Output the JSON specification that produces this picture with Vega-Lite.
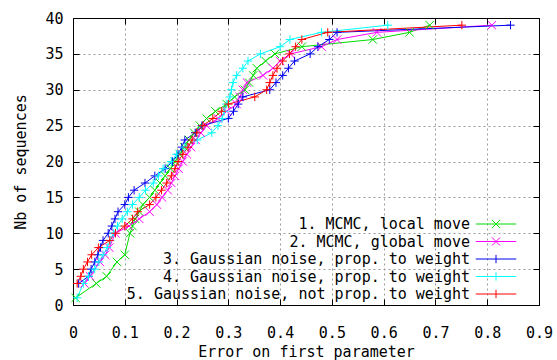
{
  "$schema": "https://vega.github.io/schema/vega-lite/v6.json",
  "width": 466,
  "height": 287,
  "autosize": {"type": "none"},
  "padding": {"left": 73, "top": 18, "right": 18, "bottom": 55},
  "background": "white",
  "config": {
    "font": "DejaVu Sans Mono",
    "view": {"stroke": "black", "strokeWidth": 1},
    "axis": {
      "labelFont": "DejaVu Sans Mono",
      "labelFontSize": 15,
      "labelColor": "black",
      "titleFont": "DejaVu Sans Mono",
      "titleFontSize": 15,
      "titleFontWeight": "normal",
      "titleColor": "black",
      "domain": true,
      "domainColor": "black",
      "domainWidth": 1,
      "ticks": false,
      "gridColor": "#9a9a9a",
      "gridDash": [2, 3],
      "gridOpacity": 1,
      "gridWidth": 1
    }
  },
  "data": {
    "values": [
      {"series": "1. MCMC, local move", "n": 1, "err": 0.005},
      {"series": "1. MCMC, local move", "n": 3, "err": 0.045},
      {"series": "1. MCMC, local move", "n": 4, "err": 0.065},
      {"series": "1. MCMC, local move", "n": 6, "err": 0.085},
      {"series": "1. MCMC, local move", "n": 7, "err": 0.1},
      {"series": "1. MCMC, local move", "n": 10, "err": 0.11},
      {"series": "1. MCMC, local move", "n": 11, "err": 0.115},
      {"series": "1. MCMC, local move", "n": 12, "err": 0.12},
      {"series": "1. MCMC, local move", "n": 13, "err": 0.128},
      {"series": "1. MCMC, local move", "n": 14, "err": 0.135},
      {"series": "1. MCMC, local move", "n": 15, "err": 0.148},
      {"series": "1. MCMC, local move", "n": 16, "err": 0.158},
      {"series": "1. MCMC, local move", "n": 17, "err": 0.168},
      {"series": "1. MCMC, local move", "n": 18, "err": 0.178},
      {"series": "1. MCMC, local move", "n": 19, "err": 0.188},
      {"series": "1. MCMC, local move", "n": 20, "err": 0.197},
      {"series": "1. MCMC, local move", "n": 21, "err": 0.206},
      {"series": "1. MCMC, local move", "n": 22, "err": 0.215},
      {"series": "1. MCMC, local move", "n": 23, "err": 0.224},
      {"series": "1. MCMC, local move", "n": 24, "err": 0.234},
      {"series": "1. MCMC, local move", "n": 25, "err": 0.245},
      {"series": "1. MCMC, local move", "n": 26, "err": 0.258},
      {"series": "1. MCMC, local move", "n": 27, "err": 0.275},
      {"series": "1. MCMC, local move", "n": 28, "err": 0.297},
      {"series": "1. MCMC, local move", "n": 29, "err": 0.312},
      {"series": "1. MCMC, local move", "n": 30, "err": 0.332},
      {"series": "1. MCMC, local move", "n": 31, "err": 0.34},
      {"series": "1. MCMC, local move", "n": 32, "err": 0.348},
      {"series": "1. MCMC, local move", "n": 33, "err": 0.355},
      {"series": "1. MCMC, local move", "n": 34, "err": 0.372},
      {"series": "1. MCMC, local move", "n": 35, "err": 0.39},
      {"series": "1. MCMC, local move", "n": 36, "err": 0.442},
      {"series": "1. MCMC, local move", "n": 37, "err": 0.579},
      {"series": "1. MCMC, local move", "n": 38, "err": 0.65},
      {"series": "1. MCMC, local move", "n": 39, "err": 0.689},

      {"series": "2. MCMC, global move", "n": 3, "err": 0.022},
      {"series": "2. MCMC, global move", "n": 4, "err": 0.033},
      {"series": "2. MCMC, global move", "n": 6, "err": 0.052},
      {"series": "2. MCMC, global move", "n": 7, "err": 0.062},
      {"series": "2. MCMC, global move", "n": 8, "err": 0.07},
      {"series": "2. MCMC, global move", "n": 10, "err": 0.082},
      {"series": "2. MCMC, global move", "n": 11, "err": 0.108},
      {"series": "2. MCMC, global move", "n": 12, "err": 0.128},
      {"series": "2. MCMC, global move", "n": 13, "err": 0.148},
      {"series": "2. MCMC, global move", "n": 14, "err": 0.162},
      {"series": "2. MCMC, global move", "n": 15, "err": 0.172},
      {"series": "2. MCMC, global move", "n": 16, "err": 0.183},
      {"series": "2. MCMC, global move", "n": 17, "err": 0.19},
      {"series": "2. MCMC, global move", "n": 18, "err": 0.197},
      {"series": "2. MCMC, global move", "n": 19, "err": 0.204},
      {"series": "2. MCMC, global move", "n": 20, "err": 0.212},
      {"series": "2. MCMC, global move", "n": 21, "err": 0.22},
      {"series": "2. MCMC, global move", "n": 22, "err": 0.228},
      {"series": "2. MCMC, global move", "n": 23, "err": 0.237},
      {"series": "2. MCMC, global move", "n": 24, "err": 0.247},
      {"series": "2. MCMC, global move", "n": 25, "err": 0.258},
      {"series": "2. MCMC, global move", "n": 26, "err": 0.28},
      {"series": "2. MCMC, global move", "n": 27, "err": 0.297},
      {"series": "2. MCMC, global move", "n": 28, "err": 0.316},
      {"series": "2. MCMC, global move", "n": 29, "err": 0.322},
      {"series": "2. MCMC, global move", "n": 30, "err": 0.328},
      {"series": "2. MCMC, global move", "n": 31, "err": 0.336},
      {"series": "2. MCMC, global move", "n": 32, "err": 0.367},
      {"series": "2. MCMC, global move", "n": 33, "err": 0.386},
      {"series": "2. MCMC, global move", "n": 34, "err": 0.4},
      {"series": "2. MCMC, global move", "n": 35, "err": 0.42},
      {"series": "2. MCMC, global move", "n": 36, "err": 0.48},
      {"series": "2. MCMC, global move", "n": 37, "err": 0.51},
      {"series": "2. MCMC, global move", "n": 38, "err": 0.587},
      {"series": "2. MCMC, global move", "n": 39, "err": 0.809},

      {"series": "3. Gaussian noise, prop. to weight", "n": 3, "err": 0.011},
      {"series": "3. Gaussian noise, prop. to weight", "n": 4, "err": 0.03},
      {"series": "3. Gaussian noise, prop. to weight", "n": 5, "err": 0.035},
      {"series": "3. Gaussian noise, prop. to weight", "n": 6, "err": 0.042},
      {"series": "3. Gaussian noise, prop. to weight", "n": 7, "err": 0.048},
      {"series": "3. Gaussian noise, prop. to weight", "n": 8, "err": 0.053},
      {"series": "3. Gaussian noise, prop. to weight", "n": 9, "err": 0.058},
      {"series": "3. Gaussian noise, prop. to weight", "n": 10, "err": 0.068},
      {"series": "3. Gaussian noise, prop. to weight", "n": 11, "err": 0.075},
      {"series": "3. Gaussian noise, prop. to weight", "n": 12, "err": 0.081},
      {"series": "3. Gaussian noise, prop. to weight", "n": 13, "err": 0.087},
      {"series": "3. Gaussian noise, prop. to weight", "n": 14, "err": 0.1},
      {"series": "3. Gaussian noise, prop. to weight", "n": 15, "err": 0.107},
      {"series": "3. Gaussian noise, prop. to weight", "n": 16, "err": 0.118},
      {"series": "3. Gaussian noise, prop. to weight", "n": 17, "err": 0.139},
      {"series": "3. Gaussian noise, prop. to weight", "n": 18, "err": 0.158},
      {"series": "3. Gaussian noise, prop. to weight", "n": 19, "err": 0.178},
      {"series": "3. Gaussian noise, prop. to weight", "n": 20, "err": 0.192},
      {"series": "3. Gaussian noise, prop. to weight", "n": 21, "err": 0.203},
      {"series": "3. Gaussian noise, prop. to weight", "n": 22, "err": 0.21},
      {"series": "3. Gaussian noise, prop. to weight", "n": 23, "err": 0.216},
      {"series": "3. Gaussian noise, prop. to weight", "n": 24, "err": 0.236},
      {"series": "3. Gaussian noise, prop. to weight", "n": 25, "err": 0.249},
      {"series": "3. Gaussian noise, prop. to weight", "n": 26, "err": 0.3},
      {"series": "3. Gaussian noise, prop. to weight", "n": 27, "err": 0.31},
      {"series": "3. Gaussian noise, prop. to weight", "n": 28, "err": 0.319},
      {"series": "3. Gaussian noise, prop. to weight", "n": 29, "err": 0.328},
      {"series": "3. Gaussian noise, prop. to weight", "n": 30, "err": 0.38},
      {"series": "3. Gaussian noise, prop. to weight", "n": 31, "err": 0.392},
      {"series": "3. Gaussian noise, prop. to weight", "n": 32, "err": 0.405},
      {"series": "3. Gaussian noise, prop. to weight", "n": 33, "err": 0.416},
      {"series": "3. Gaussian noise, prop. to weight", "n": 34, "err": 0.428},
      {"series": "3. Gaussian noise, prop. to weight", "n": 35, "err": 0.458},
      {"series": "3. Gaussian noise, prop. to weight", "n": 36, "err": 0.473},
      {"series": "3. Gaussian noise, prop. to weight", "n": 37, "err": 0.495},
      {"series": "3. Gaussian noise, prop. to weight", "n": 38, "err": 0.51},
      {"series": "3. Gaussian noise, prop. to weight", "n": 39, "err": 0.845},

      {"series": "4. Gaussian noise, prop. to weight", "n": 1, "err": 0.008},
      {"series": "4. Gaussian noise, prop. to weight", "n": 3, "err": 0.02},
      {"series": "4. Gaussian noise, prop. to weight", "n": 4, "err": 0.03},
      {"series": "4. Gaussian noise, prop. to weight", "n": 5, "err": 0.042},
      {"series": "4. Gaussian noise, prop. to weight", "n": 6, "err": 0.05},
      {"series": "4. Gaussian noise, prop. to weight", "n": 7, "err": 0.058},
      {"series": "4. Gaussian noise, prop. to weight", "n": 8, "err": 0.066},
      {"series": "4. Gaussian noise, prop. to weight", "n": 9, "err": 0.072},
      {"series": "4. Gaussian noise, prop. to weight", "n": 10, "err": 0.078},
      {"series": "4. Gaussian noise, prop. to weight", "n": 11, "err": 0.086},
      {"series": "4. Gaussian noise, prop. to weight", "n": 12, "err": 0.095},
      {"series": "4. Gaussian noise, prop. to weight", "n": 13, "err": 0.105},
      {"series": "4. Gaussian noise, prop. to weight", "n": 14, "err": 0.115},
      {"series": "4. Gaussian noise, prop. to weight", "n": 15, "err": 0.128},
      {"series": "4. Gaussian noise, prop. to weight", "n": 16, "err": 0.14},
      {"series": "4. Gaussian noise, prop. to weight", "n": 17, "err": 0.155},
      {"series": "4. Gaussian noise, prop. to weight", "n": 18, "err": 0.165},
      {"series": "4. Gaussian noise, prop. to weight", "n": 19, "err": 0.174},
      {"series": "4. Gaussian noise, prop. to weight", "n": 20, "err": 0.19},
      {"series": "4. Gaussian noise, prop. to weight", "n": 21, "err": 0.2},
      {"series": "4. Gaussian noise, prop. to weight", "n": 22, "err": 0.216},
      {"series": "4. Gaussian noise, prop. to weight", "n": 23, "err": 0.24},
      {"series": "4. Gaussian noise, prop. to weight", "n": 24, "err": 0.268},
      {"series": "4. Gaussian noise, prop. to weight", "n": 25, "err": 0.28},
      {"series": "4. Gaussian noise, prop. to weight", "n": 26, "err": 0.288},
      {"series": "4. Gaussian noise, prop. to weight", "n": 27, "err": 0.292},
      {"series": "4. Gaussian noise, prop. to weight", "n": 28, "err": 0.296},
      {"series": "4. Gaussian noise, prop. to weight", "n": 29, "err": 0.303},
      {"series": "4. Gaussian noise, prop. to weight", "n": 30, "err": 0.306},
      {"series": "4. Gaussian noise, prop. to weight", "n": 31, "err": 0.309},
      {"series": "4. Gaussian noise, prop. to weight", "n": 32, "err": 0.316},
      {"series": "4. Gaussian noise, prop. to weight", "n": 33, "err": 0.328},
      {"series": "4. Gaussian noise, prop. to weight", "n": 34, "err": 0.338},
      {"series": "4. Gaussian noise, prop. to weight", "n": 35, "err": 0.362},
      {"series": "4. Gaussian noise, prop. to weight", "n": 36, "err": 0.4},
      {"series": "4. Gaussian noise, prop. to weight", "n": 37, "err": 0.419},
      {"series": "4. Gaussian noise, prop. to weight", "n": 38, "err": 0.48},
      {"series": "4. Gaussian noise, prop. to weight", "n": 39, "err": 0.608},

      {"series": "5. Gaussian noise, not prop. to weight", "n": 3, "err": 0.008},
      {"series": "5. Gaussian noise, not prop. to weight", "n": 4, "err": 0.015},
      {"series": "5. Gaussian noise, not prop. to weight", "n": 5, "err": 0.02},
      {"series": "5. Gaussian noise, not prop. to weight", "n": 6, "err": 0.028},
      {"series": "5. Gaussian noise, not prop. to weight", "n": 7, "err": 0.036},
      {"series": "5. Gaussian noise, not prop. to weight", "n": 8, "err": 0.049},
      {"series": "5. Gaussian noise, not prop. to weight", "n": 9, "err": 0.071},
      {"series": "5. Gaussian noise, not prop. to weight", "n": 10, "err": 0.082},
      {"series": "5. Gaussian noise, not prop. to weight", "n": 11, "err": 0.1},
      {"series": "5. Gaussian noise, not prop. to weight", "n": 12, "err": 0.115},
      {"series": "5. Gaussian noise, not prop. to weight", "n": 13, "err": 0.125},
      {"series": "5. Gaussian noise, not prop. to weight", "n": 14, "err": 0.148},
      {"series": "5. Gaussian noise, not prop. to weight", "n": 15, "err": 0.16},
      {"series": "5. Gaussian noise, not prop. to weight", "n": 16, "err": 0.171},
      {"series": "5. Gaussian noise, not prop. to weight", "n": 17, "err": 0.181},
      {"series": "5. Gaussian noise, not prop. to weight", "n": 18, "err": 0.19},
      {"series": "5. Gaussian noise, not prop. to weight", "n": 19, "err": 0.197},
      {"series": "5. Gaussian noise, not prop. to weight", "n": 20, "err": 0.203},
      {"series": "5. Gaussian noise, not prop. to weight", "n": 21, "err": 0.212},
      {"series": "5. Gaussian noise, not prop. to weight", "n": 22, "err": 0.222},
      {"series": "5. Gaussian noise, not prop. to weight", "n": 23, "err": 0.23},
      {"series": "5. Gaussian noise, not prop. to weight", "n": 24, "err": 0.239},
      {"series": "5. Gaussian noise, not prop. to weight", "n": 25, "err": 0.251},
      {"series": "5. Gaussian noise, not prop. to weight", "n": 26, "err": 0.27},
      {"series": "5. Gaussian noise, not prop. to weight", "n": 27, "err": 0.287},
      {"series": "5. Gaussian noise, not prop. to weight", "n": 28, "err": 0.3},
      {"series": "5. Gaussian noise, not prop. to weight", "n": 29, "err": 0.351},
      {"series": "5. Gaussian noise, not prop. to weight", "n": 30, "err": 0.374},
      {"series": "5. Gaussian noise, not prop. to weight", "n": 31, "err": 0.38},
      {"series": "5. Gaussian noise, not prop. to weight", "n": 32, "err": 0.386},
      {"series": "5. Gaussian noise, not prop. to weight", "n": 33, "err": 0.394},
      {"series": "5. Gaussian noise, not prop. to weight", "n": 34, "err": 0.405},
      {"series": "5. Gaussian noise, not prop. to weight", "n": 35, "err": 0.418},
      {"series": "5. Gaussian noise, not prop. to weight", "n": 36, "err": 0.43},
      {"series": "5. Gaussian noise, not prop. to weight", "n": 37, "err": 0.442},
      {"series": "5. Gaussian noise, not prop. to weight", "n": 38, "err": 0.492},
      {"series": "5. Gaussian noise, not prop. to weight", "n": 39, "err": 0.751}
    ]
  },
  "layer": [
    {
      "mark": {"type": "line", "strokeWidth": 1},
      "encoding": {
        "x": {
          "field": "err", "type": "quantitative",
          "scale": {"domain": [0, 0.9], "nice": false, "zero": true},
          "axis": {
            "orient": "bottom", "values": [0, 0.1, 0.2, 0.3, 0.4, 0.5, 0.6, 0.7, 0.8, 0.9],
            "format": ".1~f", "grid": true, "labelPadding": 20, "labelFlush": false,
            "title": "Error on first parameter", "titlePadding": 4
          }
        },
        "y": {
          "field": "n", "type": "quantitative",
          "scale": {"domain": [0, 40], "nice": false},
          "axis": {
            "orient": "left", "values": [0, 5, 10, 15, 20, 25, 30, 35, 40],
            "grid": true, "labelPadding": 10, "labelFlush": false,
            "title": "Nb of sequences", "titlePadding": 16
          }
        },
        "color": {
          "field": "series", "type": "nominal",
          "scale": {
            "domain": ["1. MCMC, local move", "2. MCMC, global move", "3. Gaussian noise, prop. to weight", "4. Gaussian noise, prop. to weight", "5. Gaussian noise, not prop. to weight"],
            "range": ["#00dd00", "#ff00ff", "#0000ee", "#00ffff", "#ff0000"]
          },
          "legend": {
            "orient": "none", "legendX": 415, "legendY": 198,
            "title": null,
            "symbolSize": 225,
            "symbolStrokeWidth": 1,
            "labelAlign": "right",
            "labelOffset": -34,
            "labelFont": "DejaVu Sans Mono",
            "labelFontSize": 15,
            "labelColor": "black",
            "labelLimit": 500,
            "rowPadding": 1.5,
            "encode": {
              "symbols": {
                "update": {
                  "shape": {"signal": "indexof(datum.value, 'MCMC') >= 0 ? 'M-2.7,0L2.7,0M-0.55,-0.55L0.55,0.55M-0.55,0.55L0.55,-0.55' : 'M-2.7,0L2.7,0M0,-0.55L0,0.55'"},
                  "fill": {"value": "transparent"},
                  "strokeWidth": {"value": 1}
                }
              }
            }
          }
        },
        "order": {"field": "n", "type": "quantitative"}
      }
    },
    {
      "mark": {"type": "point", "filled": false, "strokeWidth": 1, "size": 70, "opacity": 1},
      "encoding": {
        "x": {
          "field": "err", "type": "quantitative",
          "axis": {
            "orient": "top", "values": [0, 0.1, 0.2, 0.3, 0.4, 0.5, 0.6, 0.7, 0.8, 0.9],
            "labels": false, "title": null,
            "grid": true, "gridColor": "black", "gridDash": [6, 275, 6, 100], "gridOpacity": 1, "gridWidth": 1
          }
        },
        "y": {
          "field": "n", "type": "quantitative",
          "axis": {
            "orient": "right", "values": [0, 5, 10, 15, 20, 25, 30, 35, 40],
            "labels": false, "title": null,
            "grid": true, "gridColor": "black", "gridDash": [6, 454, 6, 100], "gridOpacity": 1, "gridWidth": 1
          }
        },
        "color": {"field": "series", "type": "nominal", "legend": null},
        "shape": {
          "field": "series", "type": "nominal",
          "scale": {
            "domain": ["1. MCMC, local move", "2. MCMC, global move", "3. Gaussian noise, prop. to weight", "4. Gaussian noise, prop. to weight", "5. Gaussian noise, not prop. to weight"],
            "range": ["M-1,-1L1,1M-1,1L1,-1", "M-1,-1L1,1M-1,1L1,-1", "M-1,0L1,0M0,-1L0,1", "M-1,0L1,0M0,-1L0,1", "M-1,0L1,0M0,-1L0,1"]
          },
          "legend": null
        }
      }
    }
  ],
  "resolve": {
    "axis": {"x": "independent", "y": "independent"},
    "legend": {"color": "independent", "shape": "independent"}
  }
}
